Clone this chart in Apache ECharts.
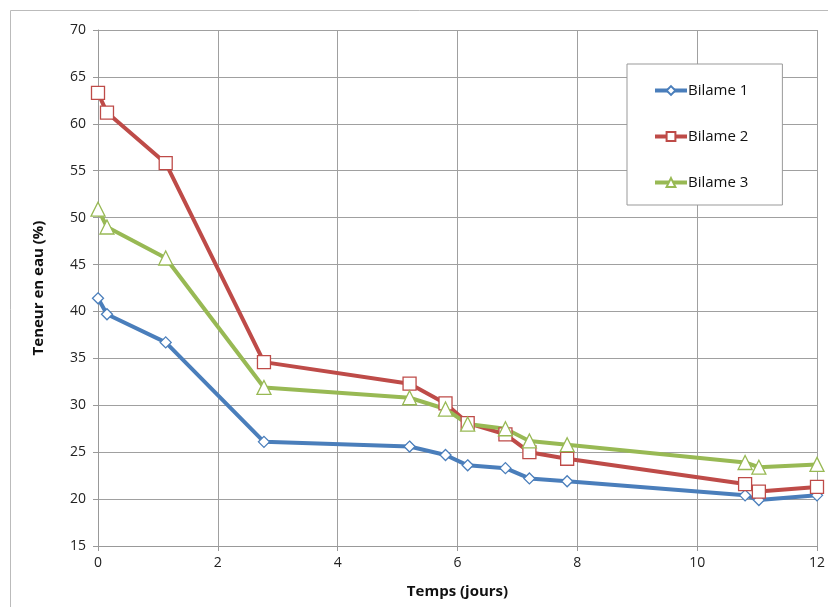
<!DOCTYPE html>
<html><head><meta charset="utf-8">
<script src="https://cdn.jsdelivr.net/npm/echarts@6/dist/echarts.min.js"></script>
<style>html,body{margin:0;padding:0;background:#fff}#c{width:828px;height:607px}</style>
</head><body><div id="c"></div>
<script>
const days = [0, 0.15, 1.13, 2.77, 5.2, 5.8, 6.17, 6.8, 7.2, 7.83, 10.8, 11.03, 12];
const bilame1 = [41.4, 39.7, 36.7, 26.1, 25.6, 24.7, 23.6, 23.3, 22.2, 21.9, 20.4, 19.9, 20.4];
const bilame2 = [63.3, 61.2, 55.8, 34.6, 32.3, 30.2, 28.1, 26.9, 25.0, 24.3, 21.6, 20.8, 21.3];
const bilame3 = [50.9, 49.0, 45.7, 31.9, 30.8, 29.6, 28.0, 27.5, 26.2, 25.8, 23.9, 23.4, 23.7];
const seriesNames = ['Bilame 1', 'Bilame 2', 'Bilame 3'];
const colors = ['#4a7ebb', '#be4b48', '#98b954'];

const FONT = '"Open Sans", sans-serif';
const pair = arr => days.map((d, i) => [d, arr[i]]);
const mk = (name, data, color, symbol, size) => ({
  name, type: 'line', data: pair(data), symbol, symbolSize: size,
  lineStyle: { color, width: 4 },
  itemStyle: { color: '#fff', borderColor: color, borderWidth: 1.3 },
  color: color,
  z: 3
});
const chart = echarts.init(document.getElementById('c'));
chart.setOption({
  animation: false,
  backgroundColor: '#fff',
  graphic: [{ type: 'rect', shape: { x: 10.5, y: 10.5, width: 830, height: 620 }, style: { fill: 'none', stroke: '#bbb', lineWidth: 1 }, z: -1 }],
  grid: { left: 98, right: 8, top: 30, bottom: 61 },
  legend: {
    orient: 'vertical', left: 627, top: 64,
    padding: [19, 34, 15, 26], itemGap: 31, itemWidth: 32, itemHeight: 11,
    backgroundColor: '#fff', borderColor: '#999', borderWidth: 1,
    lineStyle: { width: 4 },
    textStyle: { fontFamily: FONT, fontSize: 15, color: '#111', padding: [0, 0, 0, -4] },
    data: seriesNames
  },
  xAxis: {
    type: 'value', min: 0, max: 12, interval: 2,
    name: 'Temps (jours)', nameLocation: 'middle', nameGap: 38,
    nameTextStyle: { fontFamily: FONT, fontSize: 15, fontWeight: 'bold', color: '#111' },
    axisLine: { lineStyle: { color: '#999' } },
    axisTick: { show: true, length: 5, lineStyle: { color: '#999' } },
    axisLabel: { fontFamily: FONT, fontSize: 14, color: '#222', margin: 10 },
    splitLine: { show: true, lineStyle: { color: '#a0a0a0', width: 1 } }
  },
  yAxis: {
    type: 'value', min: 15, max: 70, interval: 5,
    name: 'Teneur en eau (%)', nameLocation: 'middle', nameGap: 52,
    nameTextStyle: { fontFamily: FONT, fontSize: 15, fontWeight: 'bold', color: '#111' },
    axisLine: { show: true, lineStyle: { color: '#999' } },
    axisTick: { show: true, length: 5, lineStyle: { color: '#999' } },
    axisLabel: { fontFamily: FONT, fontSize: 14, color: '#222', margin: 12 },
    splitLine: { show: true, lineStyle: { color: '#a0a0a0', width: 1 } }
  },
  series: [
    mk(seriesNames[0], bilame1, colors[0], 'diamond', 11),
    mk(seriesNames[1], bilame2, colors[1], 'rect', 13),
    mk(seriesNames[2], bilame3, colors[2], 'triangle', 14)
  ]
});
</script></body></html>
